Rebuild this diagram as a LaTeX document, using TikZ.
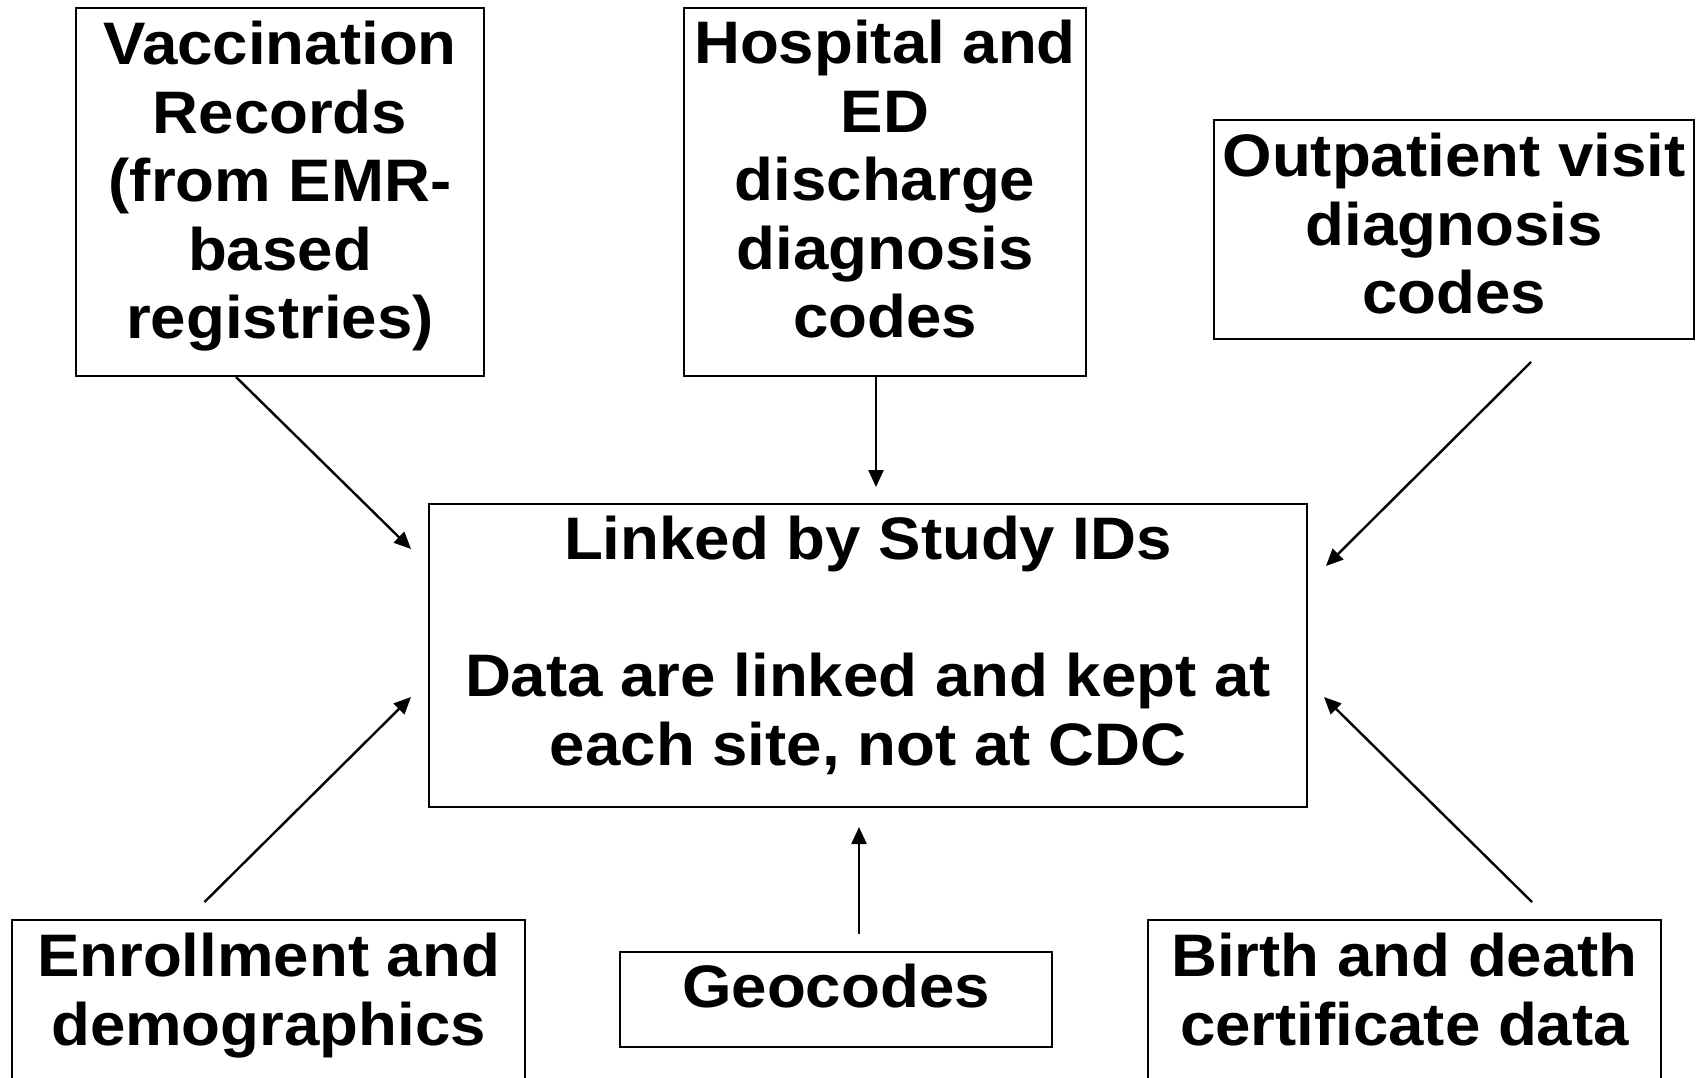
\documentclass[tikz,border=0pt]{standalone}
\usepackage{fontspec}
\setmainfont{Liberation Sans}[FakeStretch=1.06]
\usetikzlibrary{positioning,arrows.meta}

\begin{document}
\begin{tikzpicture}[
    x=1pt, y=-1pt,
    srcbox/.style={rectangle, draw=black, line width=2pt, fill=white, inner sep=0pt},
    txt/.style={align=center, inner sep=0pt, font=\fontsize{60}{68.5}\selectfont\bfseries},
    arr/.style={line width=2.4pt, -{Triangle[length=17pt, width=15pt]}}
]
\clip (0,0) rectangle (1700,1077);
\fill[white] (0,0) rectangle (1700,1077);

% data sources and the linking box
\node[srcbox, minimum width=408pt, minimum height=368pt] (vacc) at (280,192) {};
\node[srcbox, minimum width=402pt, minimum height=368pt] (hosp) at (885,192) {};
\node[srcbox, minimum width=480pt, minimum height=219pt] (outp) at (1454,229.5) {};
\node[srcbox, minimum width=878pt, minimum height=303pt] (linked) at (868,655.5) {};
\node[srcbox, minimum width=513pt, minimum height=170pt] (enrol) at (268.5,1005) {};
\node[srcbox, minimum width=432pt, minimum height=95pt] (geo) at (836,999.5) {};
\node[srcbox, minimum width=513pt, minimum height=170pt] (birth) at (1404.5,1005) {};

\node[txt, below=14pt of vacc.north] (vacctxt) {Vaccination\\Records\\(from EMR-\\based\\registries)};
\node[txt, below=13pt of hosp.north] (hosptxt) {Hospital and\\ED\\discharge\\diagnosis\\codes};
\node[txt, below=14pt of outp.north] (outptxt) {Outpatient visit\\diagnosis\\codes};
\node[txt, below=13pt of linked.north] (linkedtxt) {Linked by Study IDs\\[68.5pt]Data are linked and kept at\\each site, not at CDC};
\node[txt, below=14pt of enrol.north] (enroltxt) {Enrollment and\\demographics};
\node[txt, below=13pt of geo.north] (geotxt) {Geocodes};
\node[txt, below=14pt of birth.north] (birthtxt) {Birth and death\\certificate data};

\draw[arr] ([xshift=-44pt]vacc.south) -- ([shift={(-17,46)}]linked.north west);
\draw[arr] ([xshift=-9pt]hosp.south) -- ([shift={(8,-16)}]linked.north);
\draw[arr] ([shift={(77,22)}]outp.south) -- ([shift={(18,63)}]linked.north east);
\draw[arr] ([shift={(-64,-17)}]enrol.north) -- ([shift={(-17,-111)}]linked.south west);
\draw[arr] ([shift={(23,-17)}]geo.north) -- ([shift={(-9,19)}]linked.south);
\draw[arr] ([shift={(127.5,-17)}]birth.north) -- ([shift={(16,-111)}]linked.south east);

\end{tikzpicture}
\end{document}
